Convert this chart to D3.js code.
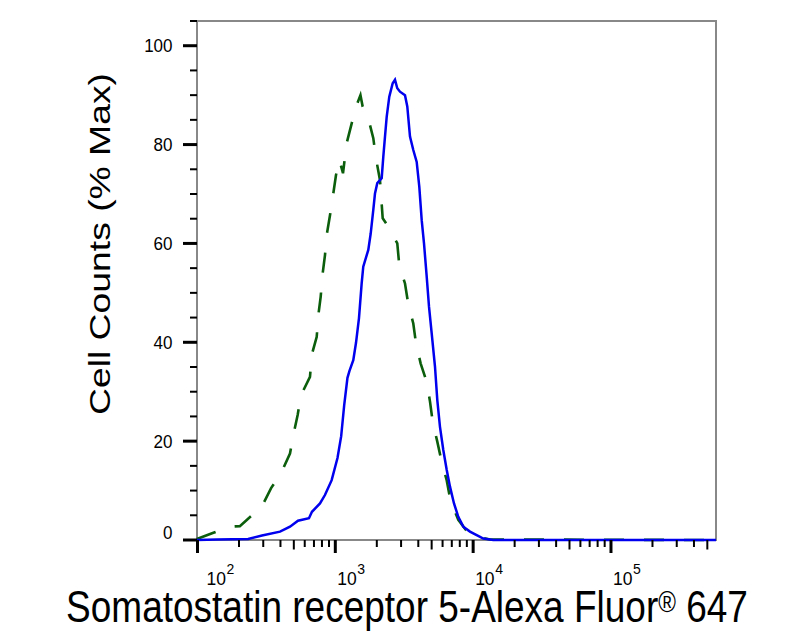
<!DOCTYPE html>
<html>
<head>
<meta charset="utf-8">
<script src="https://cdn.jsdelivr.net/npm/d3@7/dist/d3.min.js"></script>
<style>
    body { margin: 0; background: #fff; }
    text { font-family: "Liberation Sans", Arial, sans-serif; fill: #000; }
</style>
</head>
<body>
<svg id="chart" width="807" height="640"></svg>
<script>
// stained sample (blue, solid): fluorescence / % of max
const sampleX = [99, 139, 233, 294, 397, 469, 536, 644, 677, 774,
    841, 941, 1037, 1103, 1160, 1225, 1267, 1350, 1413, 1485,
    1553, 1595, 1735, 1806, 1886, 1940, 2016, 2170, 2229, 2293,
    2359, 2464, 2608, 2710, 2816, 2946, 3203, 3328, 3482, 3679,
    3894, 4067, 4234, 4400, 4603, 4783, 5003, 5286, 5494, 5746,
    6073, 6427, 6792, 7262, 7802, 8482, 9484, 10610, 11850, 14000, 578000];
const sampleY = [0, 0.1, 0.2, 0.9, 1.7, 2.7, 3.9, 4.4, 5.7, 7.4,
    9.1, 12.1, 16.6, 21.0, 27.3, 32.8, 34.2, 36.4, 39.9, 44.9,
    51.9, 55.3, 58.7, 62.0, 66.8, 70.1, 72.2, 73.2, 77.5, 81.6,
    85.6, 89.7, 92.4, 93.1, 91.4, 90.7, 90.0, 87.7, 81.6, 78.9,
    76.5, 71.5, 64.7, 60.0, 53.3, 47.2, 41.8, 35.1, 28.3, 22.9,
    18.2, 14.2, 10.8, 7.4, 4.7, 2.7, 1.7, 1.0, 0.3, 0, 0];

// isotype control (green, dashed)
const controlX = [99, 129, 172, 203, 233, 292, 342, 404, 469, 496,
    533, 564, 655, 674, 733, 753, 783, 810, 842, 866,
    915, 967, 1011, 1069, 1137, 1209, 1315, 1429, 1522, 1579,
    1735, 1886, 1973, 2109, 2207, 2423, 2816, 2911, 3203, 3384,
    3679, 3848, 4163, 4603, 4864, 5088, 5494, 5911, 6427, 6871,
    7802, 8872, 10610, 13250, 578000];
const controlY = [0.2, 1.4, 2.7, 2.8, 4.3, 6.7, 10.5, 13.5, 17.5, 21.2,
    25.3, 29.3, 33.0, 37.4, 41.1, 45.5, 49.2, 54.0, 57.7, 61.7,
    65.7, 70.1, 73.8, 76.9, 74.2, 80.3, 84.3, 88.0, 90.0, 87.7,
    85.3, 81.3, 77.2, 72.8, 65.1, 63.4, 60.0, 55.6, 51.9, 47.7,
    43.8, 39.8, 35.7, 32.0, 28.0, 23.9, 19.9, 15.8, 12.1, 7.8,
    4.1, 2.0, 0.7, 0.1, 0];

const yMajorTicks = [0, 20, 40, 60, 80, 100];
const xDecades = [2, 3, 4, 5];
const yTitle = 'Cell Counts (% Max)';
const xTitle = ['Somatostatin receptor 5-Alexa Fluor', '\u00AE', ' 647'];

(function () {
    let svg = d3.select('#chart');
    let frame = { left: 197, right: 716, top: 21, bottom: 540 };

    let position = {
        x: d3.scaleLog().domain([99.2, 578000]).range([frame.left, frame.right]),
        y: d3.scaleLinear().domain([0, 105]).range([frame.bottom, frame.top])
    };

    let line = d3.line()
        .x(d => position.x(d[0]))
        .y(d => position.y(d[1]));

    // gray plot frame
    svg.append('rect')
        .attr('x', frame.left)
        .attr('y', frame.top)
        .attr('width', frame.right - frame.left)
        .attr('height', frame.bottom - frame.top)
        .attr('fill', 'none')
        .attr('stroke', '#888')
        .attr('stroke-width', 2);

    // histograms
    svg.append('path')
        .attr('d', line(controlX.map((v, i) => [v, controlY[i]])))
        .attr('fill', 'none')
        .attr('stroke', '#0b5e0b')
        .attr('stroke-width', 2.6)
        .attr('stroke-dasharray', '20,20');

    svg.append('path')
        .attr('d', line(sampleX.map((v, i) => [v, sampleY[i]])))
        .attr('fill', 'none')
        .attr('stroke', '#0000ee')
        .attr('stroke-width', 2.5);

    // y ticks: majors every 20, minors every 5
    let yMinor = d3.range(5, 106, 5).filter(v => v % 20 !== 0);
    let yAxis = svg.append('g');
    yAxis.selectAll('.minor')
        .data(yMinor)
        .enter()
        .append('line')
        .attr('x1', frame.left - 7).attr('x2', frame.left)
        .attr('y1', d => position.y(d)).attr('y2', d => position.y(d))
        .attr('stroke', '#000')
        .attr('stroke-width', 2);
    yAxis.selectAll('.major')
        .data(yMajorTicks)
        .enter()
        .append('line')
        .attr('x1', frame.left - 14).attr('x2', frame.left)
        .attr('y1', d => position.y(d)).attr('y2', d => position.y(d))
        .attr('stroke', '#000')
        .attr('stroke-width', 3);
    yAxis.selectAll('text')
        .data(yMajorTicks)
        .enter()
        .append('text')
        .attr('transform', d => `translate(${frame.left - 24.5},${position.y(d) - (d === 0 ? 8 : 0)}) scale(1,1.1)`)
        .attr('dy', '0.35em')
        .attr('text-anchor', 'end')
        .style('font-size', '17px')
        .text(d => d);

    // x ticks: decades, 2..9 minors, 5x a bit longer
    let xMinor = [];
    xDecades.forEach(p => {
        for (let k = 2; k <= 9; ++k) {
            let v = k * Math.pow(10, p);
            (v <= position.x.domain()[1]) && xMinor.push(v);
        }
    });
    let xAxis = svg.append('g');
    xAxis.selectAll('.minor')
        .data(xMinor)
        .enter()
        .append('line')
        .attr('x1', d => position.x(d)).attr('x2', d => position.x(d))
        .attr('y1', frame.bottom)
        .attr('y2', d => frame.bottom + (Math.round(d / Math.pow(10, Math.floor(Math.log10(d)))) === 5 ? 9.5 : 7))
        .attr('stroke', '#000')
        .attr('stroke-width', 2);
    xAxis.selectAll('.major')
        .data(xDecades)
        .enter()
        .append('line')
        .attr('x1', d => position.x(Math.pow(10, d))).attr('x2', d => position.x(Math.pow(10, d)))
        .attr('y1', frame.bottom).attr('y2', frame.bottom + 13)
        .attr('stroke', '#000')
        .attr('stroke-width', 3);

    // decade labels: "10" plus a separate exponent text
    let labelX = d => position.x(Math.pow(10, d)) + (d === 2 ? 9 : 2);
    xAxis.selectAll('.base')
        .data(xDecades)
        .enter()
        .append('text')
        .attr('class', 'base')
        .attr('x', labelX)
        .attr('y', 585)
        .style('font-size', '17.5px')
        .text('10');
    xAxis.selectAll('.exp')
        .data(xDecades)
        .enter()
        .append('text')
        .attr('class', 'exp')
        .attr('x', d => labelX(d) + 20)
        .attr('y', 574)
        .style('font-size', '14px')
        .text(d => d);

    // axis titles
    svg.append('text')
        .attr('transform', 'translate(110,244) rotate(-90)')
        .attr('text-anchor', 'middle')
        .attr('textLength', 342)
        .attr('lengthAdjust', 'spacingAndGlyphs')
        .style('font-size', '30px')
        .text(yTitle);

    let title = svg.append('text')
        .attr('transform', 'translate(407,622) scale(1,1.2)')
        .attr('text-anchor', 'middle')
        .style('font-size', '37px');
    title.append('tspan').text(xTitle[0]);
    title.append('tspan').attr('dy', -8.7).style('font-size', '24px').text(xTitle[1]);
    title.append('tspan').attr('dy', 8.7).text(xTitle[2]);
}());
</script>
</body>
</html>
